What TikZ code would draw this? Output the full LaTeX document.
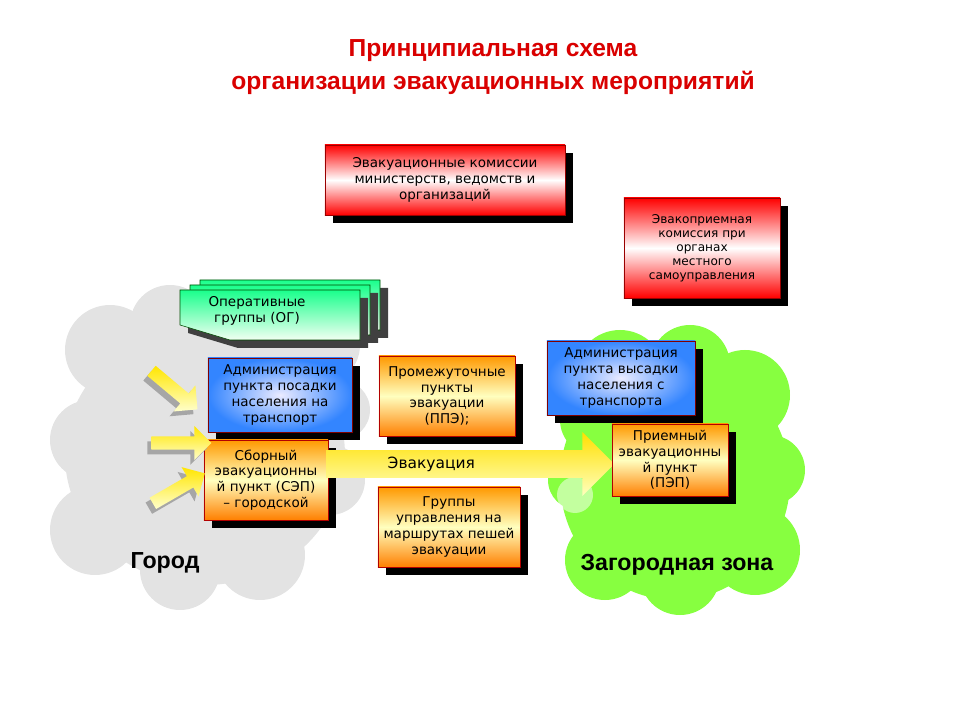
\documentclass[tikz,border=0pt]{standalone}
\usepackage{fontspec}
\setmainfont{DejaVu Sans}
\newfontfamily\headfont{Liberation Sans}
\usetikzlibrary{shadows,shapes.arrows}
\tikzset{
  base/.style={draw, align=center, font=\fontsize{9.6}{11.2}\selectfont, inner sep=2pt,
    general shadow={fill=black, shadow xshift=2mm, shadow yshift=-2mm}},
  redbox/.style={base, draw=red!60!black, top color=red, bottom color=red, middle color=white},
  orangebox/.style={base, draw=red!70!black, top color=orange!80!yellow, bottom color=orange, middle color=yellow!25},
  bluebox/.style={base, draw=red!50!black, inner color=blue!8, outer color=blue!60!cyan!80},
  yarrow/.style={single arrow, draw=none, minimum height=1.5cm, minimum width=0.85cm,
    single arrow head extend=0.2cm, top color=yellow!80!orange, bottom color=yellow!20,
    general shadow={fill=gray!70, shadow xshift=-1mm, shadow yshift=-1.2mm}},
  zone/.style={font=\headfont\fontsize{16.5}{18}\selectfont\bfseries}
}
\begin{document}
\begin{tikzpicture}[x=0.025cm,y=-0.025cm]
  \useasboundingbox (0,0) rectangle (960,720);

  % title
  \node[text=red!85!black, align=center, font=\headfont\fontsize{17.5}{24}\selectfont\bfseries] (title) at (493,67)
    {Принципиальная схема\\организации эвакуационных мероприятий};

  % clouds
  \fill[gray!22] (205,455) ellipse (140 and 130);
  \foreach \cx/\cy/\r in {110/350/45, 170/325/40, 250/315/35, 320/345/40, 340/410/30, 90/440/40, 95/530/45, 180/570/40, 260/555/45, 330/480/35}
    \fill[gray!22] (\cx,\cy) circle (\r);
  \fill[green!50!lime!75] (675,480) ellipse (115 and 120);
  \foreach \cx/\cy/\r in {620/375/45, 690/365/40, 745/395/45, 770/470/35, 755/550/45, 680/575/40, 605/560/40, 578/480/30, 595/420/35}
    \fill[green!50!lime!75] (\cx,\cy) circle (\r);
  \fill[white, opacity=0.5] (575,495) circle (18);

  % top commissions
  \node[redbox, minimum width=6cm, minimum height=1.75cm] (evk) at (445,180)
    {Эвакуационные комиссии\\министерств, ведомств и\\организаций};
  \node[redbox, minimum width=3.9cm, minimum height=2.5cm, font=\fontsize{8.6}{10}\selectfont] (epk) at (702,248)
    {Эвакоприемная\\комиссия при\\органах\\местного\\самоуправления};

  % operative groups
  \foreach \d in {20,10,0} {
    \fill[black!75] (188+\d,298-\d/2) -- (368+\d,298-\d/2) -- (368+\d,348-\d/2) -- (238+\d,348-\d/2)
      -- (188+\d,333-\d/2) -- cycle;
    \draw[draw=green!30!black, top color=green!50!cyan!90, bottom color=green!5]
      (180+\d,290-\d/2) -- (360+\d,290-\d/2) -- (360+\d,340-\d/2) -- (230+\d,340-\d/2)
      -- (180+\d,325-\d/2) -- cycle;
  }
  \node[align=center, font=\fontsize{9.6}{11.2}\selectfont] (og) at (257,311) {Оперативные\\группы (ОГ)};

  % boxes
  \node[bluebox, minimum width=3.6cm, minimum height=1.85cm] (apos) at (280,395)
    {Администрация\\пункта посадки\\населения на\\транспорт};
  \node[orangebox, minimum width=3.1cm, minimum height=2cm] (sep) at (266,480)
    {Сборный\\эвакуационны\\й пункт (СЭП)\\– городской};
  \node[orangebox, minimum width=3.4cm, minimum height=2cm] (ppe) at (447,396)
    {Промежуточные\\пункты\\эвакуации\\(ППЭ);};
  \node[orangebox, minimum width=3.55cm, minimum height=2cm] (gr) at (449,527)
    {Группы\\управления на\\маршрутах пешей\\эвакуации};
  \node[bluebox, minimum width=3.7cm, minimum height=1.85cm] (avys) at (621,378)
    {Администрация\\пункта высадки\\населения с\\транспорта};

  % evacuation arrow
  \node[single arrow, draw=none, anchor=tail, minimum height=7.2cm, minimum width=1.6cm,
        single arrow head extend=0.4cm, top color=yellow!75!orange, bottom color=yellow!25,
        font=\fontsize{11}{12}\selectfont] (evac) at (326,464) {\hspace{-1.6cm}Эвакуация};

  \node[orangebox, minimum width=2.9cm, minimum height=1.8cm] (pep) at (670,460)
    {Приемный\\эвакуационны\\й пункт\\(ПЭП)};

  % incoming arrows
  \node[yarrow, rotate=-40] (in1) at (172,388) {};
  \node[yarrow] (in2) at (178,443) {};
  \node[yarrow, rotate=30] (in3) at (176,490) {};

  % zones
  \node[zone] (gorod) at (165,563) {Город};
  \node[zone] (zag) at (677,565) {Загородная зона};
\end{tikzpicture}
\end{document}
